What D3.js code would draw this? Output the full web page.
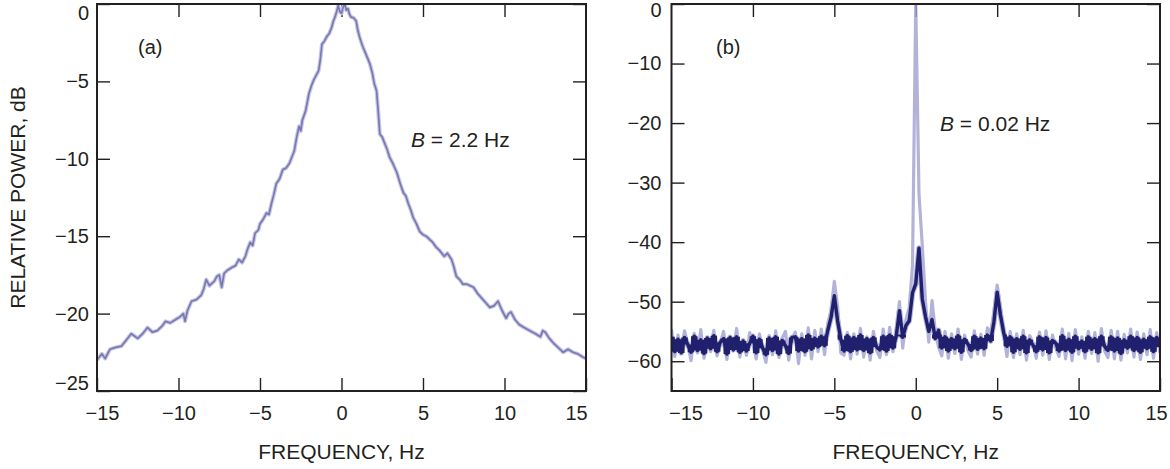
<!DOCTYPE html>
<html>
<head>
<meta charset="utf-8">
<script src="https://cdn.jsdelivr.net/npm/d3@7"></script>
<style>
  body { margin: 0; background: #fff; }
  svg text { font-family: "Liberation Sans", Arial, Helvetica, sans-serif; fill: #231f20; }
  .axis path { display: none; }
  .axis line { stroke: #231f20; stroke-width: 1.4; }
  .axis text { font-size: 20px; fill: #231f20; }
</style>
</head>
<body>
<svg id="chart" width="1170" height="469"></svg>
<script>
// shared tick values
var xTicks = [-15, -10, -5, 0, 5, 10, 15];
var aTicks = [0, -5, -10, -15, -20, -25];
var bTicks = [0, -10, -20, -30, -40, -50, -60];

// panel (a): spectrum with B = 2.2 Hz (freq in Hz, power in dB)
var aFreq = [
  -15.0, -14.7, -14.5, -14.2, -13.9, -13.5, -13.2, -12.9, -12.5, -12.2,
  -11.9, -11.6, -11.3, -11.0, -10.8, -10.5, -10.2, -9.9, -9.7, -9.6,
  -9.45, -9.2, -8.9, -8.6, -8.45, -8.3, -8.1, -7.8, -7.65, -7.5,
  -7.35, -7.2, -7.0, -6.7, -6.5, -6.3, -6.1, -5.9, -5.75, -5.6,
  -5.45, -5.3, -5.1, -5.0, -4.8, -4.6, -4.45, -4.3, -4.15, -4.0,
  -3.8, -3.6, -3.4, -3.2, -3.05, -2.9, -2.75, -2.6, -2.5, -2.4,
  -2.2, -2.0, -1.85, -1.7, -1.55, -1.4, -1.3, -1.2, -1.05, -0.9,
  -0.75, -0.6, -0.5, -0.4, -0.3, -0.2, -0.1, 0.0, 0.1, 0.2,
  0.3, 0.4, 0.5, 0.6, 0.75, 0.9, 1.0, 1.1, 1.25, 1.4,
  1.6, 1.75, 1.9, 2.0, 2.15, 2.25, 2.35, 2.5, 2.65, 2.8,
  2.95, 3.15, 3.4, 3.6, 3.8, 3.95, 4.1, 4.25, 4.4, 4.6,
  4.8, 5.0, 5.2, 5.4, 5.6, 5.8, 6.0, 6.3, 6.5, 6.75,
  6.9, 7.05, 7.25, 7.45, 7.7, 7.9, 8.1, 8.35, 8.6, 8.85,
  9.1, 9.35, 9.6, 9.85, 10.1, 10.25, 10.4, 10.65, 10.9, 11.2,
  11.55, 11.9, 12.2, 12.35, 12.5, 12.75, 13.0, 13.3, 13.6, 13.9,
  14.2, 14.5, 14.8, 15.0
];
var aPower = [
  -23.0, -22.6, -22.9, -22.3, -22.2, -22.1, -21.7, -21.3, -21.6, -21.3,
  -20.9, -21.2, -21.1, -20.8, -20.5, -20.6, -20.4, -20.2, -20.0, -20.5,
  -19.8, -19.2, -19.1, -18.8, -18.4, -17.8, -18.2, -17.9, -17.6, -17.5,
  -18.3, -17.4, -17.2, -17.0, -16.9, -16.5, -16.7, -16.3, -15.8, -15.4,
  -15.6, -14.8, -14.6, -14.2, -13.9, -13.5, -13.6, -12.9, -12.3, -11.6,
  -11.3, -10.7, -10.6, -10.3, -9.9, -9.5, -8.6, -7.9, -8.2, -7.5,
  -6.9, -5.8, -5.3, -4.9, -4.6, -4.3, -3.6, -2.6, -2.4, -2.1,
  -1.9, -1.5, -1.1, -0.85, -0.5, -0.1, -0.5, -0.6, -0.2, 0.0,
  -0.4, -0.3, -0.7, -0.85, -0.9, -1.1, -1.7, -2.1, -2.6, -3.0,
  -3.5, -3.9, -4.5, -5.1, -5.6, -6.9, -8.4, -8.6, -9.0, -9.4,
  -9.9, -10.3, -10.9, -11.6, -12.2, -12.4, -12.9, -13.3, -13.8, -14.2,
  -14.7, -14.9, -15.0, -15.2, -15.4, -15.7, -15.9, -16.3, -16.1, -16.5,
  -17.0, -17.6, -17.8, -18.1, -18.1, -18.2, -18.3, -18.7, -19.0, -19.3,
  -19.6, -19.5, -19.2, -19.8, -20.3, -20.0, -19.9, -20.4, -20.7, -20.9,
  -21.1, -21.3, -21.5, -21.1, -21.2, -21.6, -21.9, -22.2, -22.5, -22.3,
  -22.5, -22.6, -22.8, -22.9
];

// panel (b): spectrum with B = 0.02 Hz, sampled every 0.2 Hz from -15 Hz
var bStart = -15, bStep = 0.2;
// typical (dense) trace, drawn dark
var bDark = [
  -55.9, -58.4, -56.3, -58.6, -56.0, -57.2, -58.5, -55.8, -58.2, -56.4,
  -58.7, -56.1, -57.9, -55.7, -58.4, -56.8, -56.2, -58.8, -56.0, -58.1,
  -55.9, -58.5, -56.6, -58.3, -57.0, -55.8, -58.6, -56.3, -57.8, -58.9,
  -56.1, -58.2, -55.9, -58.8, -56.5, -57.4, -58.7, -56.0, -55.9, -58.3,
  -56.2, -58.4, -55.6, -58.0, -56.1,
  -57.6, -55.8, -57.4, -54.8, -52.6, -49.0, -53.2, -56.4,
  -58.3, -55.7, -58.4, -56.0, -58.1, -55.6, -58.2, -56.2, -58.6, -56.0,
  -57.6, -58.1, -55.8, -58.3, -55.6, -57.8,
  -55.8, -51.5, -56.0, -54.0, -53.2, -48.5, -47.0, -41.0, -49.5, -52.5,
  -55.0, -53.0, -56.2, -54.8,
  -57.8, -55.9, -58.3, -56.2, -57.9, -55.7, -58.5, -56.3, -57.1, -58.2,
  -55.8, -58.0, -56.1, -57.9, -55.6,
  -56.6, -53.4, -48.4, -52.2, -55.2, -57.5,
  -55.9, -58.5, -56.2, -58.0, -55.8, -58.6, -56.4, -57.3, -58.4, -55.9,
  -58.1, -56.0, -58.6, -56.5, -57.0, -58.3, -55.7, -58.2, -56.3, -58.5,
  -55.8, -57.9, -56.6, -58.4, -55.9, -58.0, -56.2, -58.6, -55.8, -57.5,
  -58.2, -55.9, -58.3, -56.1, -58.7, -56.4, -57.8, -55.8, -58.2, -56.0,
  -58.5, -56.3, -57.9, -55.9, -58.4, -56.0, -57.6
];
// sparse excursions (spikes and the carrier), drawn light
var bLight = [
  -54.6, -59.2, -55.6, -58.7, -54.9, -57.0, -59.9, -55.3, -58.6, -54.7,
  -59.5, -56.2, -58.4, -54.8, -59.1, -56.9, -55.0, -59.7, -55.8, -58.2,
  -54.5, -59.3, -56.4, -59.0, -55.2, -56.8, -59.6, -55.4, -58.0, -60.2,
  -55.7, -58.9, -54.9, -59.4, -56.1, -55.0, -59.8, -56.3, -55.1, -60.4,
  -55.4, -59.0, -54.4, -59.6, -54.8,
  -58.4, -54.6, -58.9, -53.6, -51.4, -46.6, -50.8, -58.6,
  -59.0, -55.2, -59.6, -55.4, -58.8, -54.5, -59.3, -55.9, -59.8, -55.0,
  -58.2, -59.4, -54.6, -58.9, -54.3, -58.4,
  -55.0, -50.0, -57.8, -53.0, -51.0, -44.0, 0.0, -32.0, -40.5, -50.0,
  -56.8, -49.8, -55.0, -57.6,
  -59.1, -55.0, -59.5, -55.4, -58.7, -54.6, -59.7, -55.6, -58.2, -59.3,
  -54.9, -58.8, -55.5, -59.0, -54.4,
  -55.2, -51.8, -47.2, -50.8, -55.6, -59.2,
  -55.0, -59.4, -55.4, -58.9, -54.8, -59.8, -55.7, -56.9, -59.5, -55.1,
  -59.0, -54.9, -59.7, -55.6, -57.8, -59.2, -54.6, -59.6, -55.3, -59.9,
  -54.7, -58.8, -55.9, -59.5, -55.0, -58.7, -55.2, -60.0, -54.5, -58.3,
  -59.4, -54.8, -59.6, -55.0, -59.8, -55.5, -58.6, -54.6, -59.3, -55.1,
  -59.7, -55.4, -58.9, -54.7, -59.5, -55.2, -58.6
];

var svg = d3.select('#chart');
var defs = svg.append('defs');
var top_ = 4, bottom = 391;

function bFreq(i) { return bStart + i * bStep; }

// draws inward ticks on all four sides, labels and the x title
function drawAxes(id, x, y, yTicks, yPad, shifts) {
  var g = svg.append('g');
  var x0 = x.range()[0], x1 = x.range()[1];

  defs.append('clipPath').attr('id', 'clip-' + id)
    .append('rect')
    .attr('x', x0).attr('y', top_)
    .attr('width', x1 - x0).attr('height', bottom - top_);

  var xb = g.append('g').attr('class', 'axis')
    .attr('transform', 'translate(0,' + bottom + ')')
    .call(d3.axisBottom(x).tickValues(xTicks).tickSize(-13).tickSizeOuter(0).tickPadding(15));
  g.append('g').attr('class', 'axis')
    .attr('transform', 'translate(0,' + top_ + ')')
    .call(d3.axisTop(x).tickValues(xTicks.slice(1, -1)).tickSize(-13).tickSizeOuter(0).tickFormat(''));

  var yl = g.append('g').attr('class', 'axis')
    .attr('transform', 'translate(' + x0 + ',0)')
    .call(d3.axisLeft(y).tickValues(yTicks).tickSize(-13).tickSizeOuter(0).tickPadding(yPad));
  g.append('g').attr('class', 'axis')
    .attr('transform', 'translate(' + x1 + ',0)')
    .call(d3.axisRight(y).tickValues(yTicks).tickSize(-13).tickSizeOuter(0).tickFormat(''));

  // end labels sit inside the corners, as in the print
  xb.selectAll('.tick').filter(function (d) { return d === xTicks[0]; })
    .select('text').attr('dx', shifts.xFirst);
  xb.selectAll('.tick').filter(function (d) { return d === xTicks[xTicks.length - 1]; })
    .select('text').attr('dx', shifts.xLast);
  yl.selectAll('.tick').filter(function (d) { return d === yTicks[0]; })
    .select('text').attr('y', shifts.yFirst);
  yl.selectAll('.tick').filter(function (d) { return d === yTicks[yTicks.length - 1]; })
    .select('text').attr('y', shifts.yLast);

  g.append('text')
    .attr('x', x(0)).attr('y', 459)
    .attr('text-anchor', 'middle')
    .style('font-size', '21px')
    .text('FREQUENCY, Hz');
}

// ---------- panel (a) ----------
var xa = d3.scaleLinear().domain([-15, 15]).range([97, 586]);
var ya = d3.scaleLinear().domain([-25, 0]).range([bottom, top_]);

drawAxes('a', xa, ya, aTicks, 8, { xFirst: 5, xLast: -10, yFirst: 9, yLast: -8 });

var lineA = d3.line()
  .x(function (d, i) { return xa(aFreq[i]); })
  .y(function (d) { return ya(d); });

var plotA = svg.append('g').attr('clip-path', 'url(#clip-a)');
plotA.append('path').datum(aPower)
  .attr('fill', 'none').attr('stroke', '#c8c8e4').attr('stroke-width', 4)
  .attr('stroke-linejoin', 'round').attr('d', lineA);
plotA.append('path').datum(aPower)
  .attr('fill', 'none').attr('stroke', '#7878b4').attr('stroke-width', 1.7)
  .attr('stroke-linejoin', 'round').attr('d', lineA);

// ---------- panel (b) ----------
var xb = d3.scaleLinear().domain([-15, 15]).range([671.5, 1160]);
var yb = d3.scaleLinear().domain([-65, 0]).range([bottom, top_]);

drawAxes('b', xb, yb, bTicks, 10, { xFirst: 14, xLast: -4, yFirst: 6, yLast: 0 });

var lineB = d3.line()
  .x(function (d, i) { return xb(bFreq(i)); })
  .y(function (d) { return yb(d); });

// the noise floor is a dense sweep: fill each step between neighbouring
// readings, kept to the floor so the peaks stay as thin spikes
var nB = bDark.length, floorTop = -55.5;
function stepHi(d, i) { return Math.min(Math.max(d, bDark[Math.min(i + 1, nB - 1)]), floorTop); }
function stepLo(d, i) { return Math.min(Math.min(d, bDark[Math.min(i + 1, nB - 1)]), stepHi(d, i)); }
var bandB = d3.area()
  .x(function (d, i) { return xb(bFreq(i)); })
  .y0(function (d, i) { return yb(stepLo(d, i)); })
  .y1(function (d, i) { return yb(stepHi(d, i)); })
  .curve(d3.curveStepAfter);

var plotB = svg.append('g').attr('clip-path', 'url(#clip-b)');
plotB.append('path').datum(bLight)
  .attr('fill', 'none').attr('stroke', '#a0a0d0').attr('stroke-width', 3.2)
  .attr('stroke-opacity', 0.8).attr('stroke-linejoin', 'round').attr('d', lineB);
plotB.append('path').datum(bDark)
  .attr('fill', 'none').attr('stroke', '#b4b4da').attr('stroke-width', 5.5)
  .attr('stroke-linejoin', 'round').attr('d', lineB);
plotB.append('path').datum(bDark)
  .attr('fill', '#20206e').attr('stroke', 'none')
  .attr('d', bandB);
plotB.append('path').datum(bDark)
  .attr('fill', 'none').attr('stroke', '#20206e').attr('stroke-width', 3.4)
  .attr('stroke-linejoin', 'round').attr('d', lineB);

// frames drawn last so the traces stay inside
[xa, xb].forEach(function (x) {
  svg.append('rect')
    .attr('x', x.range()[0]).attr('y', top_)
    .attr('width', x.range()[1] - x.range()[0])
    .attr('height', bottom - top_)
    .attr('fill', 'none').attr('stroke', '#231f20').attr('stroke-width', 2);
});

// annotations
svg.append('text')
  .attr('transform', 'translate(25,' + ((top_ + bottom) / 2) + ') rotate(-90)')
  .attr('text-anchor', 'middle')
  .style('font-size', '21px')
  .text('RELATIVE POWER, dB');

svg.append('text').attr('x', 138).attr('y', 54).style('font-size', '20px').text('(a)');
svg.append('text').attr('x', 716).attr('y', 54).style('font-size', '20px').text('(b)');

var ba = svg.append('text').attr('x', 411).attr('y', 147).style('font-size', '21px');
ba.append('tspan').style('font-style', 'italic').text('B');
ba.append('tspan').text(' = 2.2 Hz');

var bb = svg.append('text').attr('x', 940).attr('y', 131).style('font-size', '21px');
bb.append('tspan').style('font-style', 'italic').text('B');
bb.append('tspan').text(' = 0.02 Hz');
</script>
</body>
</html>
